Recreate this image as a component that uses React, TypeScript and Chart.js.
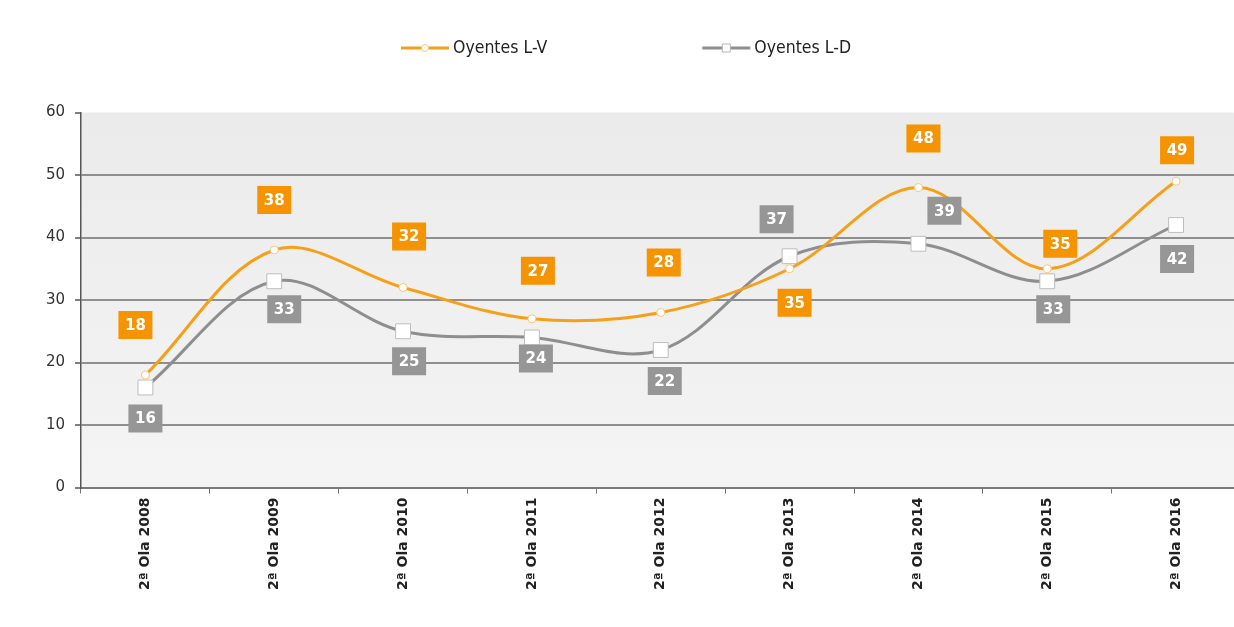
import React, { useEffect, useRef } from "react";
import { Chart, registerables } from "chart.js";

Chart.register(...registerables);

const categories = [
  "2ª Ola 2008",
  "2ª Ola 2009",
  "2ª Ola 2010",
  "2ª Ola 2011",
  "2ª Ola 2012",
  "2ª Ola 2013",
  "2ª Ola 2014",
  "2ª Ola 2015",
  "2ª Ola 2016",
];
const oyentesLV = [18, 38, 32, 27, 28, 35, 48, 35, 49];
const oyentesLD = [16, 33, 25, 24, 22, 37, 39, 33, 42];
const yTicks = [0, 10, 20, 30, 40, 50, 60];
const seriesNames = ["Oyentes L-V", "Oyentes L-D"];

// label box placement relative to each point (style only)
const lvLabelOffsets = [
  [-10, -50], [0, -50], [6, -51], [6, -48], [3, -50], [5, 34], [5, -49], [13, -25], [1, -31],
];
const ldLabelOffsets = [
  [0, 31], [10, 28], [6, 30], [4, 21], [4, 31], [-13, -37], [26, -33], [6, 28], [1, 34],
];

const ORANGE_LINE = "#F6A01A";
const ORANGE_BOX = "#F59300";
const GRAY_LINE = "#8E8E8E";
const GRAY_BOX = "#969696";

const bgPlugin = {
  id: "plotBg",
  beforeDraw(chart: any) {
    const { ctx, chartArea: a } = chart;
    ctx.save();
    const g = ctx.createLinearGradient(0, a.top, 0, a.bottom);
    g.addColorStop(0, "#ebebeb");
    g.addColorStop(1, "#f4f4f4");
    ctx.fillStyle = g;
    ctx.fillRect(a.left, a.top, a.right - a.left, a.bottom - a.top);
    ctx.restore();
  },
};

const labelPlugin = {
  id: "boxLabels",
  afterDatasetsDraw(chart: any) {
    const ctx = chart.ctx;
    ctx.save();
    ctx.font = 'bold 15px "DejaVu Sans"';
    ctx.textAlign = "center";
    ctx.textBaseline = "middle";
    chart.data.datasets.forEach((ds: any, di: number) => {
      const meta = chart.getDatasetMeta(di);
      const offs = di === 0 ? lvLabelOffsets : ldLabelOffsets;
      const fill = di === 0 ? ORANGE_BOX : GRAY_BOX;
      meta.data.forEach((pt: any, i: number) => {
        const cx = pt.x + offs[i][0];
        const cy = pt.y + offs[i][1];
        const w = 34, h = 28;
        ctx.fillStyle = fill;
        ctx.fillRect(cx - w / 2, cy - h / 2, w, h);
        ctx.fillStyle = "#ffffff";
        ctx.fillText(String(ds.data[i]), cx, cy + 1);
      });
    });
    ctx.restore();
  },
};

const legendPlugin = {
  id: "customLegend",
  afterDraw(chart: any) {
    const ctx = chart.ctx;
    ctx.save();
    ctx.font = '17.5px "DejaVu Sans Condensed", "DejaVu Sans"';
    ctx.textBaseline = "middle";
    ctx.textAlign = "left";
    const lineLen = 48;
    const gapText = 4;
    const itemGap = 155;
    const items = chart.data.datasets.map((ds: any) => ({
      label: ds.label,
      color: ds.borderColor,
      style: ds.pointStyle,
      w: lineLen + gapText + ctx.measureText(ds.label).width,
    }));
    const total =
      items.reduce((s: number, it: any) => s + it.w, 0) + itemGap * (items.length - 1);
    let x = chart.width / 2 - total / 2;
    const y = 48;
    items.forEach((it: any) => {
      ctx.strokeStyle = it.color;
      ctx.lineWidth = 3;
      ctx.beginPath();
      ctx.moveTo(x, y);
      ctx.lineTo(x + lineLen, y);
      ctx.stroke();
      ctx.fillStyle = "#ffffff";
      ctx.lineWidth = 1;
      ctx.strokeStyle = it.style === "rect" ? "#b5b5b5" : "#f8c878";
      ctx.beginPath();
      if (it.style === "rect") {
        ctx.rect(x + lineLen / 2 - 4, y - 4, 8, 8);
      } else {
        ctx.arc(x + lineLen / 2, y, 3.5, 0, Math.PI * 2);
      }
      ctx.fill();
      ctx.stroke();
      ctx.fillStyle = "#222222";
      ctx.fillText(it.label, x + lineLen + gapText, y);
      x += it.w + itemGap;
    });
    ctx.restore();
  },
};

export default function App() {
  const ref = useRef<HTMLCanvasElement | null>(null);

  useEffect(() => {
    if (!ref.current) return;
    const chart = new Chart(ref.current, {
      type: "line",
      data: {
        labels: categories,
        datasets: [
          {
            label: seriesNames[0],
            data: oyentesLV,
            borderColor: ORANGE_LINE,
            borderWidth: 3,
            tension: 0.35,
            pointStyle: "circle",
            pointRadius: 4,
            pointBackgroundColor: "#ffffff",
            pointBorderColor: "#f8c878",
            pointBorderWidth: 1,
            fill: false,
            order: 1,
          },
          {
            label: seriesNames[1],
            data: oyentesLD,
            borderColor: GRAY_LINE,
            borderWidth: 3,
            tension: 0.35,
            pointStyle: "rect",
            pointRadius: 10.5,
            pointBackgroundColor: "#ffffff",
            pointBorderColor: "#bdbdbd",
            pointBorderWidth: 1,
            fill: false,
            order: 2,
          },
        ],
      },
      options: {
        responsive: false,
        animation: false,
        layout: { padding: { top: 112.5, right: 3, left: 0, bottom: 0 } },
        plugins: {
          legend: { display: false },
          tooltip: { enabled: false },
        },
        scales: {
          x: {
            offset: true,
            afterFit(scale: any) {
              scale.height = 139.5;
            },
            grid: {
              offset: true,
              drawOnChartArea: false,
              drawTicks: true,
              tickLength: 6,
              tickColor: "#777777",
            },
            border: { display: true, color: "#7a7a7a", width: 2 },
            ticks: {
              minRotation: 90,
              maxRotation: 90,
              autoSkip: false,
              padding: 4,
              color: "#222222",
              font: { family: '"DejaVu Sans"', size: 14, weight: "bold" },
            },
          },
          y: {
            min: 0,
            max: 60,
            afterFit(scale: any) {
              scale.width = 81;
            },
            afterBuildTicks(scale: any) {
              scale.ticks = yTicks.map((v) => ({ value: v }));
            },
            grid: {
              color: (c: any) =>
                c.tick && (c.tick.value === 0 || c.tick.value === 60)
                  ? "rgba(0,0,0,0)"
                  : "#8f8f8f",
              lineWidth: 2,
              drawTicks: true,
              tickLength: 6,
              tickColor: "#555555",
              tickWidth: 1.5,
            },
            border: { display: true, color: "#555555", width: 1.5 },
            ticks: {
              padding: 10,
              color: "#333333",
              font: { family: '"DejaVu Sans"', size: 15 },
            },
          },
        },
      },
      plugins: [bgPlugin, labelPlugin, legendPlugin],
    });
    return () => chart.destroy();
  }, []);

  return (
    <div style={{ position: "fixed", left: 0, top: 0, width: 1252, height: 627, background: "#ffffff" }}>
      <canvas ref={ref} width={1252} height={627} />
    </div>
  );
}
